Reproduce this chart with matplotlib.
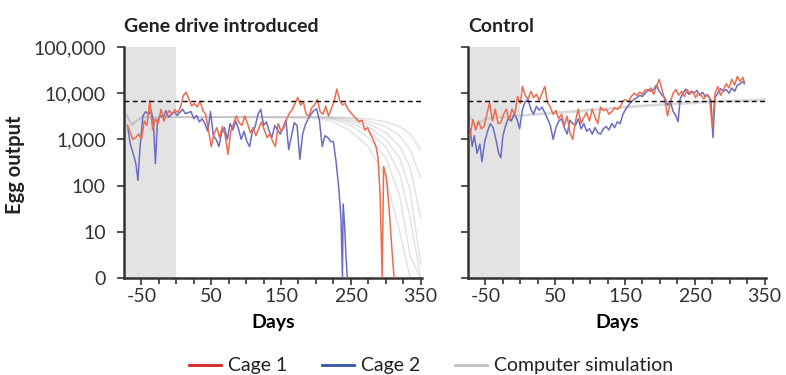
import matplotlib
matplotlib.use("Agg")
from matplotlib import pyplot as plt
from matplotlib.lines import Line2D
from matplotlib.ticker import FixedLocator, LogLocator, NullFormatter
import numpy as np

plt.rcParams["font.family"] = ["Lato", "DejaVu Sans"]
plt.rcParams["axes.unicode_minus"] = False
plt.rcParams["text.color"] = "#222222"
plt.rcParams["xtick.color"] = "#333333"
plt.rcParams["ytick.color"] = "#333333"

# Gene drive cages
gd_cage1_days = [-70, -66, -62, -58, -54, -50, -46, -42, -38, -34, -30, -26, -22, -18, -14, -10, -6, -2,
                 2, 6, 10, 14, 18, 22, 26, 30, 34, 38, 42, 46, 50, 54, 58, 62, 66, 70, 74, 78, 82, 86,
                 90, 94, 98, 102, 106, 110, 114, 118, 122, 126, 130, 134, 138, 142, 146, 150, 154, 158,
                 162, 166, 170, 174, 178, 182, 186, 190, 194, 198, 202, 206, 210, 214, 218, 222, 226,
                 230, 234, 238, 242, 246, 250, 254, 258, 262, 266, 270, 274, 278, 282, 286, 289, 292,
                 295, 297, 301, 305, 309, 312]
gd_cage1_eggs = [2000, 1400, 1000, 1100, 1300, 1000, 2500, 2000, 7000, 1600, 2800, 2200, 4500, 2500,
                 3500, 4200, 3500, 4400, 3800, 5000, 8900, 10500, 7500, 5300, 6000, 5000, 6800, 4200,
                 3500, 1600, 700, 1300, 1800, 1100, 1900, 1200, 470, 1500, 2200, 3200, 2300, 2000, 3200,
                 2200, 1400, 1800, 1200, 1700, 2400, 1600, 1100, 1300, 900, 700, 2200, 1500, 1800, 2700,
                 3700, 4400, 6000, 8100, 5500, 6500, 3500, 3200, 4800, 5600, 7400, 4000, 3500, 5200,
                 3200, 4600, 6500, 12300, 7000, 5600, 6000, 4500, 3800, 3200, 2800, 2400, 2600, 1600,
                 1800, 1300, 1000, 700, 400, 60, 0, 260, 150, 30, 4, 0]

gd_cage2_days = [-70, -66, -62, -58, -55, -52, -48, -44, -40, -36, -33, -30, -27, -23, -19, -15, -11, -7,
                 -3, 1, 5, 9, 13, 17, 21, 25, 29, 33, 37, 41, 45, 49, 53, 57, 61, 65, 69, 73, 77, 81,
                 85, 89, 93, 97, 101, 105, 109, 113, 117, 121, 125, 129, 133, 137, 141, 145, 149, 153,
                 157, 161, 165, 169, 173, 177, 181, 185, 189, 193, 197, 201, 205, 209, 213, 217, 221,
                 225, 229, 233, 236, 238, 239, 241, 243, 245]
gd_cage2_eggs = [2000, 800, 500, 300, 130, 700, 3200, 4000, 3500, 4200, 2500, 300, 2500, 3300, 3000,
                 4200, 3000, 3500, 4000, 3300, 3800, 4500, 3600, 3800, 4000, 2800, 3300, 2400, 2800,
                 2200, 1500, 4000, 1200, 1000, 700, 1400, 1800, 1000, 2200, 1600, 2500, 1700, 1000,
                 1500, 900, 700, 1500, 1900, 3500, 4500, 2000, 2400, 1500, 1100, 2000, 1600, 1300, 1800,
                 2600, 600, 1200, 2300, 2000, 370, 1300, 2100, 2800, 3500, 4200, 4600, 2600, 700, 1200,
                 1100, 900, 900, 320, 80, 18, 0, 40, 15, 3, 0]

# Control cages
ct_cage1_days = [-72, -68, -64, -60, -56, -52, -48, -44, -40, -36, -32, -28, -24, -20, -16, -12, -8, -4,
                 0, 3, 7, 11, 15, 19, 23, 27, 31, 35, 39, 43, 47, 51, 55, 59, 63, 67, 71, 75, 79, 83,
                 87, 91, 95, 99, 103, 107, 111, 115, 119, 123, 127, 131, 135, 139, 143, 147, 151, 155,
                 159, 163, 167, 171, 175, 179, 183, 187, 191, 195, 199, 203, 207, 211, 215, 219, 223,
                 227, 231, 235, 239, 243, 247, 251, 255, 259, 263, 267, 271, 275, 279, 283, 287, 291,
                 295, 299, 303, 307, 311, 315, 319, 321]
ct_cage1_eggs = [1200, 2700, 1600, 2500, 1700, 1900, 3500, 6300, 2500, 4500, 2200, 2300, 3500, 4500,
                 2600, 4500, 3500, 8500, 6000, 14000, 9000, 7500, 11000, 8000, 9500, 7000, 10000, 14000,
                 6300, 5000, 3500, 4200, 2800, 3500, 2000, 3200, 1400, 1000, 2500, 4500, 2200, 3000,
                 3800, 2500, 4500, 3000, 2200, 5000, 4200, 4500, 3500, 4000, 4800, 4500, 5000, 6800,
                 7200, 6500, 8500, 10000, 9000, 10500, 9500, 12000, 11000, 13000, 9500, 14000, 20000,
                 12000, 7000, 3200, 6500, 10000, 12000, 9000, 11000, 8500, 12000, 9500, 11000, 8000,
                 10000, 9000, 7500, 9500, 8000, 1900, 10000, 14000, 9000, 12000, 16000, 13000, 20000,
                 15000, 23000, 18000, 22000, 17000]

ct_cage2_days = [-72, -69, -66, -62, -58, -55, -51, -47, -43, -39, -35, -31, -28, -25, -21, -17, -13, -9,
                 -5, -1, 3, 7, 11, 15, 19, 23, 27, 31, 35, 39, 43, 47, 51, 55, 59, 63, 67, 71, 75, 79,
                 83, 87, 91, 95, 99, 103, 107, 111, 115, 119, 123, 127, 131, 135, 139, 143, 147, 151,
                 155, 159, 163, 167, 171, 175, 179, 183, 187, 191, 195, 199, 203, 207, 211, 215, 219,
                 223, 226, 229, 233, 237, 241, 245, 249, 253, 257, 261, 265, 269, 273, 276, 279, 283,
                 287, 291, 295, 299, 303, 307, 311, 315, 319, 321]
ct_cage2_eggs = [1700, 700, 1200, 500, 800, 330, 900, 1500, 2200, 1800, 1000, 500, 400, 1200, 2000,
                 3000, 2500, 3500, 2800, 1700, 4500, 6500, 7400, 4500, 3500, 5200, 4300, 5000, 3800,
                 2800, 2000, 1000, 1800, 2500, 2800, 1800, 1300, 2600, 2200, 2000, 2800, 1700, 2200,
                 1500, 1700, 1300, 1800, 1400, 1300, 1700, 1900, 1600, 2200, 1800, 2400, 2200, 3500,
                 4500, 5500, 6500, 7400, 8000, 9000, 8500, 10000, 12000, 11000, 12300, 15000, 11000,
                 9000, 8000, 5500, 6500, 4000, 3200, 2400, 7500, 10000, 12300, 9500, 11000, 10000,
                 11500, 9000, 10500, 8500, 9000, 7000, 1100, 8000, 10000, 12500, 11000, 12000, 10000,
                 13000, 11000, 15000, 16000, 18000, 16000]

# Computer simulations
gd_sim_days = [-72, -64, -50, 0, 100, 200, 225, 250, 275, 300, 320, 335, 350]
gd_sims = [
    [3500, 2000, 3000, 3000, 3000, 2900, 2400, 1500, 700, 150, 10, 0, 0],
    [3500, 2100, 3000, 3100, 3000, 3000, 2700, 2000, 1100, 400, 60, 3, 0],
    [3400, 2000, 2900, 3000, 3100, 3000, 2800, 2300, 1500, 700, 180, 20, 0],
    [3500, 2200, 3000, 3000, 3000, 3100, 2900, 2500, 1900, 1000, 400, 80, 2],
    [3600, 2100, 3100, 3000, 3000, 3000, 3000, 2700, 2200, 1400, 700, 250, 20],
    [3500, 2000, 3000, 3100, 3000, 3000, 3000, 2900, 2500, 1900, 1200, 600, 150],
    [3500, 2100, 3000, 3000, 3100, 3000, 3000, 3000, 2800, 2400, 1900, 1300, 600],
]
ct_sim_days = [-72, -64, -50, 0, 50, 100, 150, 200, 250, 300, 350]
ct_sims = [
    [3000, 2000, 2800, 3300, 3800, 4300, 5000, 5700, 6300, 6800, 7200],
    [3100, 2200, 2900, 3400, 3900, 4500, 5200, 5900, 6500, 7000, 7500],
    [2900, 1900, 2700, 3200, 3600, 4100, 4800, 5400, 6000, 6500, 6900],
]

target_level = 6700
y_ticks = [1, 10, 100, 1000, 10000, 100000]
y_labels = ["0", "10", "100", "1,000", "10,000", "100,000"]
x_ticks = [-50, 50, 150, 250, 350]

RED = "#ea6d4f"
BLUE = "#6b6cc2"
SIM = "#c4c4c4"

fig = plt.figure(figsize=(7.86, 3.75), dpi=100)
ax1 = fig.add_axes([124 / 786, 1 - 278 / 375, 298 / 786, 231 / 375])
ax2 = fig.add_axes([468 / 786, 1 - 278 / 375, 298 / 786, 231 / 375])


def draw(ax, sim_days, sims, c1d, c1e, c2d, c2e, title, show_y):
    ax.axvspan(-75, 0, color="#e3e3e3", zorder=0, lw=0)
    for s in sims:
        ax.plot(sim_days, np.maximum(s, 1), color=SIM, lw=1.0, alpha=0.5, zorder=1)
    ax.plot(c2d, np.maximum(c2e, 1), color=BLUE, lw=1.1, zorder=3)
    ax.plot(c1d, np.maximum(c1e, 1), color=RED, lw=1.1, zorder=4)
    ax.plot([-75, 350], [target_level, target_level], color="black", lw=1.0,
            dashes=(3.5, 2.5), zorder=5)
    ax.set_yscale("log")
    ax.set_ylim(1, 100000)
    ax.set_xlim(-75, 352)
    ax.yaxis.set_major_locator(FixedLocator(y_ticks))
    ax.yaxis.set_minor_locator(LogLocator(base=10, subs=np.arange(2, 10)))
    ax.yaxis.set_minor_formatter(NullFormatter())
    if show_y:
        ax.set_yticklabels(y_labels)
    else:
        ax.tick_params(axis="y", labelleft=False)
    ax.set_xticks(x_ticks)
    ax.set_xticklabels([str(v) for v in x_ticks])
    ax.xaxis.set_minor_locator(FixedLocator([-25, 0, 25, 75, 100, 125, 175, 200, 225, 275, 300, 325]))
    for side in ["top", "right"]:
        ax.spines[side].set_visible(False)
    for side in ["left", "bottom"]:
        ax.spines[side].set_color("#333333")
        ax.spines[side].set_linewidth(1.8)
    ax.tick_params(axis="both", which="major", labelsize=14, width=1.2, length=5, direction="out")
    ax.tick_params(axis="y", which="major", pad=8)
    ax.tick_params(axis="y", which="minor", width=0.8, length=3, direction="inout")
    ax.tick_params(axis="x", which="minor", width=1.2, length=4, direction="out")
    ax.tick_params(axis="x", which="major", pad=2)
    ax.set_xlabel("Days", fontsize=14, fontweight="bold", labelpad=7)
    ax.set_title(title, loc="left", fontsize=14, fontweight="bold", pad=11)


draw(ax1, gd_sim_days, gd_sims, gd_cage1_days, gd_cage1_eggs, gd_cage2_days, gd_cage2_eggs,
     "Gene drive introduced", True)
draw(ax2, ct_sim_days, ct_sims, ct_cage1_days, ct_cage1_eggs, ct_cage2_days, ct_cage2_eggs,
     "Control", False)

fig.text(15 / 786, 1 - 165 / 375, "Egg output", rotation=90, ha="center", va="center",
         fontsize=14.5, fontweight="bold")

handles = [
    Line2D([], [], color="#d42424", lw=2),
    Line2D([], [], color="#3a52a6", lw=2),
    Line2D([], [], color="#c2c2c2", lw=2),
]
fig.legend(handles, ["Cage 1", "Cage 2", "Computer simulation"], loc="center",
           bbox_to_anchor=(431 / 786, 1 - 366 / 375), ncol=3, frameon=False, fontsize=14,
           handlelength=1.65, handletextpad=0.35, columnspacing=1.8, borderpad=0.1)

plt.savefig("out.png", dpi=100)
